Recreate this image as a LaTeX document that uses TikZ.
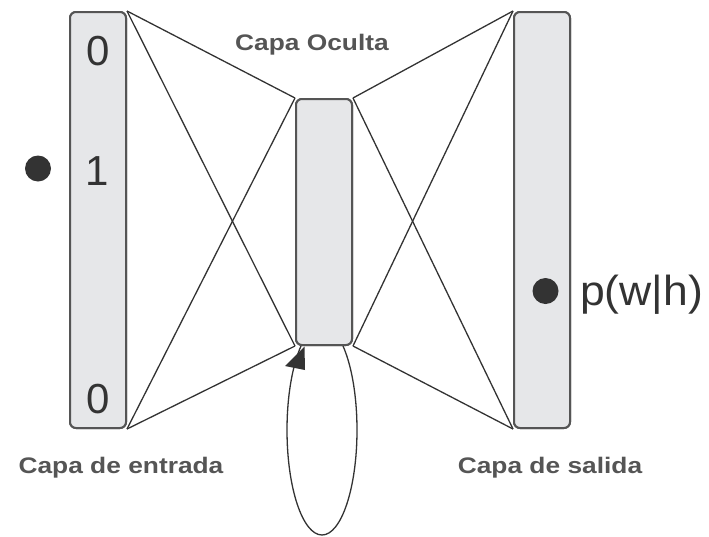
\documentclass[tikz,border=0pt]{standalone}
\usepackage{fontspec}
\setmainfont{Liberation Sans}
\definecolor{barfill}{HTML}{E6E7E9}
\definecolor{barline}{HTML}{555555}
\definecolor{ink}{HTML}{333333}
\definecolor{lbl}{HTML}{555555}
\begin{document}
\begin{tikzpicture}[x=1pt,y=-1pt,
  bar/.style={draw=barline,fill=barfill,line width=2pt,rounded corners=6pt,minimum width=56pt,inner sep=0pt},
  link/.style={draw=ink,line width=1.3pt},
  lbltext/.style={text=lbl,font=\bfseries\fontsize{22.5}{23}\selectfont,xscale=1.17,inner sep=0pt},
  digit/.style={text=ink,font=\fontsize{42}{42}\selectfont,inner sep=0pt},
  dot/.style={circle,fill=ink,minimum size=26pt,inner sep=0pt}]
\useasboundingbox (0,0) rectangle (709,536);
% bars (positions only, drawn later)
\path (98,220) node[bar,minimum height=416pt] (in) {};
\path (324,222) node[bar,minimum height=246pt] (hid) {};
\path (542,220) node[bar,minimum height=416pt] (out) {};
% connections
\draw[link] (in.north east) -- (hid.north west);
\draw[link] (in.north east) -- (hid.south west);
\draw[link] (in.south east) -- (hid.north west);
\draw[link] (in.south east) -- (hid.south west);
\draw[link] (hid.north east) -- (out.north west);
\draw[link] (hid.north east) -- (out.south west);
\draw[link] (hid.south east) -- (out.north west);
\draw[link] (hid.south east) -- (out.south west);
% recurrent loop
\coordinate (lc) at (322,430);
\draw[link] (lc) ellipse [x radius=35, y radius=105];
% redraw bars on top
\node[bar,minimum height=416pt] at (in) {};
\node[bar,minimum height=246pt] at (hid) {};
\node[bar,minimum height=416pt] at (out) {};
% arrow head of the loop
\fill[ink] (304.5,346.5) -- (285,366) -- (305,370) -- cycle;
% digits
\node[digit] (d0) at (98,51.5) {0};
\node[digit] (d1) at (97,171) {1};
\node[digit] (d2) at (98,399) {0};
% dots
\node[dot] (ldot) at (38,168.5) {};
\node[dot] (rdot) at (545.5,291) {};
\node[digit,anchor=base west,xscale=1.06] (pw) at (580,305) {p(w|h)};
% labels
\node[lbltext,anchor=base] (lh) at (312,50) {Capa Oculta};
\node[lbltext,anchor=base] (li) at (121,473) {Capa de entrada};
\node[lbltext,anchor=base] (lo) at (550,473) {Capa de salida};
\end{tikzpicture}
\end{document}
